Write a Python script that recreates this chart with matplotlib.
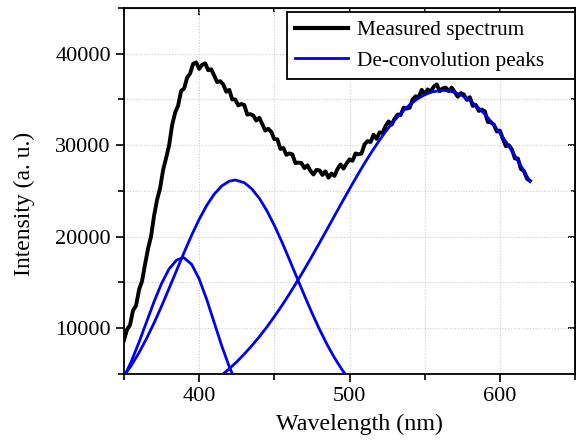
"""
Measured PL spectrum with its three Gaussian de-convolution peaks.
"""
import matplotlib
matplotlib.use('Agg')
import matplotlib.pyplot as plt
from matplotlib.ticker import MultipleLocator

# ── data ─────────────────────────────────────────────────────────────────────

# measured spectrum, 350..620 nm every 2 nm
meas_wl = list(range(350, 621, 2))
meas_int = [
    8700, 9850, 10350, 11950, 12460, 14200, 15150, 17000, 18700, 20050,
    22300, 24050, 25300, 27300, 28600, 30000, 32200, 33550, 34350, 35950,
    36200, 37400, 37850, 38900, 39050, 38350, 38800, 38950, 38200, 38300,
    37600, 36900, 37000, 36650, 35850, 36050, 35000, 35000, 34350, 34500,
    34400, 33350, 33400, 33250, 32700, 33000, 32300, 31600, 31800, 31450,
    30650, 30650, 29600, 29700, 28950, 29100, 29000, 28050, 28100, 28050,
    27500, 27800, 27200, 26800, 27300, 27250, 26750, 27150, 26450, 26900,
    26650, 27400, 27900, 27450, 28000, 28450, 28300, 29100, 29000, 29100,
    30100, 30450, 30350, 31150, 30700, 31400, 31350, 32100, 32600, 32250,
    32900, 33350, 33300, 34100, 34000, 34100, 35000, 35350, 35250, 36050,
    35600, 36100, 35850, 36400, 36650, 35900, 36200, 36300, 35900, 36300,
    35800, 35300, 35700, 35550, 34950, 35250, 34300, 34400, 33750, 33900,
    33700, 32550, 32500, 32250, 31500, 31600, 30700, 29900, 30000, 29550,
    28550, 28550, 27400, 27200, 26350, 26100,
]

# peak 1 (~389 nm)
p1_wl = [350, 355, 360, 365, 370, 375, 380, 385, 389, 390, 395, 400,
         405, 410, 415, 420, 425]
p1_int = [4670, 6430, 8480, 10690, 12910, 14900, 16490, 17450, 17700, 17680,
          16980, 15380, 13150, 10610, 8080, 5800, 3940]

# peak 2 (~424 nm)
p2_wl = [350, 355, 360, 365, 370, 375, 380, 385, 390, 395, 400, 405, 410,
         415, 420, 424, 430, 435, 440, 445, 450, 455, 460, 465, 470, 475,
         480, 485, 490, 495, 500]
p2_int = [4780, 5970, 7330, 8880, 10580, 12420, 14360, 16330, 18290, 20180,
          21900, 23420, 24650, 25550, 26070, 26200, 25910, 25230, 24200, 22850,
          21240, 19440, 17510, 15540, 13580, 11680, 9890, 8240, 6770, 5470,
          4350]

# peak 3 (~562 nm)
p3_wl = [415, 420, 425, 430, 435, 440, 445, 450, 455, 460, 465, 470, 475,
         480, 485, 490, 495, 500, 505, 510, 515, 520, 525, 530, 535, 540,
         545, 550, 555, 562, 565, 570, 575, 580, 585, 590, 595, 600, 605,
         610, 615, 620]
p3_int = [4870, 5570, 6330, 7180, 8090, 9070, 10130, 11270, 12470, 13740,
          15070, 16440, 17860, 19320, 20790, 22280, 23760, 25220, 26650, 28030,
          29340, 30570, 31710, 32740, 33650, 34420, 35050, 35520, 35840, 36000,
          35970, 35780, 35420, 34890, 34210, 33390, 32420, 31330, 30140, 28850,
          27480, 26050]

# ── figure ───────────────────────────────────────────────────────────────────

plt.rcParams['font.family'] = ['Liberation Serif', 'DejaVu Serif']

fig = plt.figure(figsize=(5.76, 4.43), dpi=100)
ax = fig.add_axes([0.2153, 0.1558, 0.7830, 0.8262])

BLUE = '#0000ee'
ax.plot(meas_wl, meas_int, color='black', linewidth=2.8, zorder=3,
        label='Measured spectrum')
ax.plot(p1_wl, p1_int, color=BLUE, linewidth=2.0, zorder=4,
        label='De-convolution peaks')
ax.plot(p2_wl, p2_int, color=BLUE, linewidth=2.0, zorder=4)
ax.plot(p3_wl, p3_int, color=BLUE, linewidth=2.0, zorder=4)

ax.set_xlim(350, 650)
ax.set_ylim(5000, 45000)
ax.xaxis.set_major_locator(MultipleLocator(100))
ax.xaxis.set_minor_locator(MultipleLocator(50))
ax.yaxis.set_major_locator(MultipleLocator(10000))
ax.yaxis.set_minor_locator(MultipleLocator(5000))

ax.grid(True, which='both', color='#cccccc', linestyle=(0, (1, 1.5)),
        linewidth=0.8, zorder=0)

ax.tick_params(which='both', direction='out', labelsize=16, width=1.2,
               top=False, right=False)
ax.tick_params(which='major', length=6)
ax.tick_params(which='minor', length=4)
for s in ax.spines.values():
    s.set_linewidth(1.3)

# inward ticks on top/right
sec = ax.secondary_xaxis('top')
sec.xaxis.set_major_locator(MultipleLocator(100))
sec.xaxis.set_minor_locator(MultipleLocator(50))
sec.tick_params(which='both', direction='in', labeltop=False, width=1.2)
sec.tick_params(which='major', length=5)
sec.tick_params(which='minor', length=3)
secy = ax.secondary_yaxis('right')
secy.yaxis.set_major_locator(MultipleLocator(10000))
secy.yaxis.set_minor_locator(MultipleLocator(5000))
secy.tick_params(which='both', direction='in', labelright=False, width=1.2)
secy.tick_params(which='major', length=5)
secy.tick_params(which='minor', length=3)

ax.set_xlabel('Wavelength (nm)', fontsize=17.3)
ax.xaxis.set_label_coords(0.523, -0.108)
ax.set_ylabel('Intensity (a. u.)', fontsize=17)
ax.yaxis.set_label_coords(-0.197, 0.465)

leg = ax.legend(loc='upper left', bbox_to_anchor=(0.361, 0.803, 0.638, 0.186),
                mode='expand', fontsize=15.3, frameon=True, fancybox=False,
                edgecolor='black', framealpha=1, borderaxespad=0,
                handlelength=2.5, handletextpad=0.4, borderpad=0.4,
                labelspacing=0.5)
leg.get_frame().set_linewidth(1.3)
leg.legend_handles[0].set_linewidth(3.0)

plt.savefig('out.png', dpi=100)
